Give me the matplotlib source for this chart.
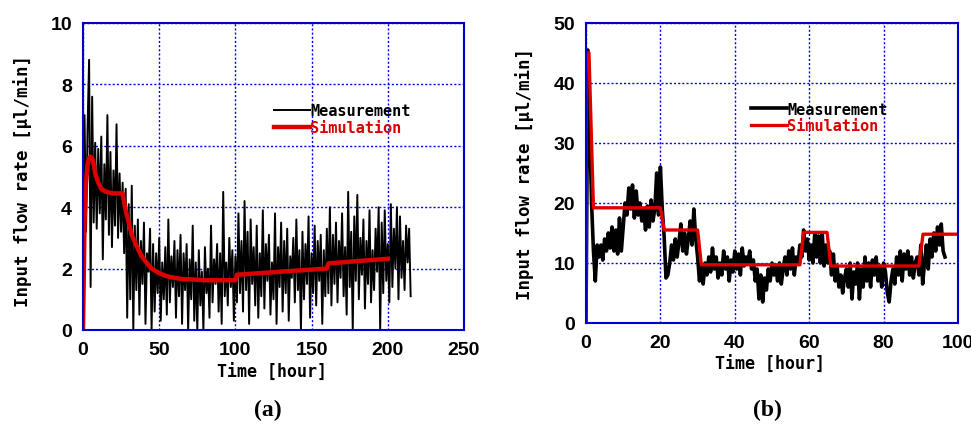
import numpy as np
import matplotlib
matplotlib.use("Agg")
import matplotlib.pyplot as plt

# ---------------- Panel (a) data ----------------
meas_a_t = list(range(0, 216))
meas_a_y = [
    0.0, 7.0, 3.2, 6.6, 8.8, 1.4, 7.6, 3.5, 6.1, 3.3,
    5.9, 3.8, 6.3, 2.3, 5.4, 3.6, 7.0, 3.1, 5.8, 2.7,
    5.2, 3.4, 6.7, 3.0, 5.1, 3.2, 4.8, 2.5, 4.6, 0.4,
    4.1, 1.0, 4.7, 0.0, 3.4, 1.3, 3.6, 0.5, 2.9, 1.5,
    3.5, 0.2, 2.5, 1.9, 3.3, 0.0, 2.8, 0.6, 2.5, 1.2,
    3.0, 0.3, 2.2, 1.0, 2.7, 0.5, 3.6, 0.9, 2.4, 1.4,
    2.9, 0.4, 2.6, 1.1, 3.1, 0.2, 2.5, 1.3, 2.8, 0.0,
    2.3, 1.0, 3.4, 0.3, 2.2, 0.0, 2.6, 0.8, 1.9, 0.0,
    2.7, 1.2, 2.0, 0.4, 3.4, 0.9, 2.3, 1.5, 2.8, 0.6,
    2.5, 0.2, 4.5, 1.1, 2.2, 0.8, 3.0, 1.4, 2.6, 0.3,
    2.4, 0.9, 3.8, 1.2, 2.9, 0.6, 4.2, 1.3, 3.2, 0.2,
    3.6, 1.5, 2.7, 0.8, 3.4, 0.4, 2.5, 1.1, 3.9, 0.7,
    2.8, 1.6, 3.1, 0.5, 2.2, 1.0, 3.8, 0.2, 2.7, 1.4,
    3.5, 0.6, 2.9, 1.2, 3.3, 0.3, 2.4, 1.7, 3.0, 0.9,
    3.6, 1.3, 2.6, 0.0, 3.2, 1.0, 2.8, 1.5, 3.7, 0.4,
    2.5, 1.2, 3.4, 0.8, 2.9, 1.6, 3.1, 0.2, 2.6, 1.1,
    3.3, 1.2, 4.0, 0.8, 3.1, 1.5, 3.5, 0.9, 2.9, 1.7,
    3.8, 1.1, 2.7, 0.5, 4.5, 1.4, 3.2, 0.0, 3.7, 1.6,
    4.4, 1.0, 3.0, 1.8, 3.6, 0.7, 2.9, 1.5, 3.9, 0.9,
    2.6, 1.3, 3.3, 1.9, 4.0, 0.0, 3.5, 1.2, 3.9, 1.6,
    2.8, 0.9, 4.1, 1.4, 3.3, 2.0, 4.0, 1.0, 3.7, 1.7,
    2.9, 1.3, 3.4, 2.2, 3.3, 1.1,
]
sim_a_t = [0, 1, 2, 3, 4, 5, 6, 7, 8, 10, 12, 15, 20, 26, 28, 30, 32, 35,
           38, 40, 45, 50, 55, 60, 65, 70, 80, 100, 101, 130, 160, 161, 200]
sim_a_y = [0.0, 3.5, 4.8, 5.4, 5.6, 5.65, 5.6, 5.4, 5.1, 4.8, 4.6, 4.5,
           4.45, 4.45, 3.9, 3.5, 3.1, 2.75, 2.45, 2.3, 2.0, 1.85, 1.75,
           1.7, 1.66, 1.65, 1.62, 1.62, 1.8, 1.9, 2.0, 2.17, 2.32]

# ---------------- Panel (b) data ----------------
meas_b_t = list(np.arange(0, 97, 0.5))
meas_b_y = [
    0, 45.5, 33, 20, 12, 7, 13, 11, 13, 10.5,
    14, 12, 15, 12.5, 16, 12, 15.5, 11.5, 17.5, 12,
    16, 20, 18, 22.5, 19, 23, 17.5, 22, 18, 20,
    17, 19, 15.5, 19.5, 16, 20.5, 17, 19, 25, 18,
    26, 19, 14.5, 7.5, 8, 10, 13, 10.5, 14, 11,
    13.5, 16.5, 12, 15, 11.5, 14, 17, 13, 19, 14,
    11, 7, 9.5, 6.5, 10, 8, 11, 8.5, 12.5, 9,
    11, 7.5, 10, 8, 12, 9, 11, 7, 10.5, 8.5,
    12, 9, 11.5, 8, 12.5, 9.5, 11, 10, 12, 9,
    10.5, 7, 9, 4, 8, 3.5, 7.5, 5.5, 9, 7,
    10, 8, 9.5, 7, 10, 6.5, 9, 11, 8, 12,
    9, 12.5, 8, 11, 10, 13, 11, 15.5, 12, 14,
    10.5, 13, 10, 15, 11, 14.5, 10, 15, 9.5, 13,
    10, 12, 8, 11.5, 7, 9.5, 6, 8, 5, 7.5,
    9, 6, 10, 4, 8.5, 6.5, 10, 4, 9, 6,
    11, 7, 10, 6, 10.5, 8, 11, 7, 9.5, 6,
    10, 8.5, 5, 3.5, 7, 9, 6.5, 11, 8, 12,
    7, 11.5, 9, 12, 8, 11, 7.5, 10, 11, 8,
    13, 6.5, 10, 13, 9, 14, 11, 15, 12, 16,
    13, 16.5, 12, 11,
]
sim_b_t = [0, 0, 0.8, 2, 20, 21, 30, 31, 57.5, 58.5, 64.8, 65.8, 89.5, 90.6, 100]
sim_b_y = [0, 45, 45, 19.2, 19.2, 15.5, 15.5, 9.7, 9.7, 15.1, 15.1, 9.5, 9.5, 14.8, 14.8]

RED = "#dd0000"
BLUE_GRID = "#0000ff"
BLUE_SPINE = "#0000cc"
MONO = "DejaVu Sans Mono"
TICKFONT = "Liberation Sans"

fig = plt.figure(figsize=(9.71, 4.27), dpi=100)
ax_a = fig.add_axes([83 / 971, (427 - 331) / 427, 381 / 971, 307 / 427])
ax_b = fig.add_axes([586 / 971, (427 - 324) / 427, 372 / 971, 300 / 427])


def style(ax, xmax, xstep, ymax, ystep):
    ax.set_xlim(0, xmax)
    ax.set_ylim(0, ymax)
    ax.set_xticks(np.arange(0, xmax + 0.1, xstep))
    ax.set_yticks(np.arange(0, ymax + 0.1, ystep))
    ax.grid(True, color=BLUE_GRID, linestyle=(0, (1.5, 1.5)), linewidth=1.0)
    ax.set_axisbelow(True)
    for s in ax.spines.values():
        s.set_color(BLUE_SPINE)
        s.set_linewidth(1.5)
    ax.tick_params(length=0, pad=8)
    for lab in ax.get_xticklabels() + ax.get_yticklabels():
        lab.set_fontfamily(TICKFONT)
        lab.set_fontweight("bold")
        lab.set_fontsize(14)


style(ax_a, 250, 50, 10, 2)
style(ax_b, 100, 20, 50, 10)

ax_a.plot(meas_a_t, meas_a_y, color="black", lw=1.4, label="Measurement")
ax_a.plot(sim_a_t, sim_a_y, color=RED, lw=3.2, label="Simulation")

ax_b.plot(meas_b_t, meas_b_y, color="black", lw=2.6, label="Measurement")
ax_b.plot(sim_b_t, sim_b_y, color=RED, lw=2.4, label="Simulation")

for ax, anchor in ((ax_a, (0.50, 0.738)), (ax_b, (0.443, 0.738))):
    leg = ax.legend(loc="upper left", bbox_to_anchor=anchor, frameon=False,
                    handlelength=2.4, handletextpad=0.0, labelspacing=0.1,
                    borderpad=0, borderaxespad=0,
                    prop={"family": MONO, "weight": "bold", "size": 11},
                    labelcolor="linecolor")

for ax, lx, ly, xx, xy in ((ax_a, -0.16, 0.487, 0.496, -0.137),
                           (ax_b, -0.164, 0.5, 0.495, -0.137)):
    ax.set_ylabel("Input flow rate [μl/min]", fontfamily=MONO,
                  fontweight="bold", fontsize=12.5)
    ax.set_xlabel("Time [hour]", fontfamily=MONO, fontweight="bold", fontsize=12)
    ax.yaxis.set_label_coords(lx, ly)
    ax.yaxis.label.set_va("center")
    ax.xaxis.set_label_coords(xx, xy)
    ax.xaxis.label.set_va("center")

fig.text(268 / 971, 1 - 410 / 427, "(a)", ha="center", va="center",
         fontfamily="Liberation Serif", fontweight="bold", fontsize=17)
fig.text(767 / 971, 1 - 410 / 427, "(b)", ha="center", va="center",
         fontfamily="Liberation Serif", fontweight="bold", fontsize=17)

fig.savefig("out.png", dpi=100)
